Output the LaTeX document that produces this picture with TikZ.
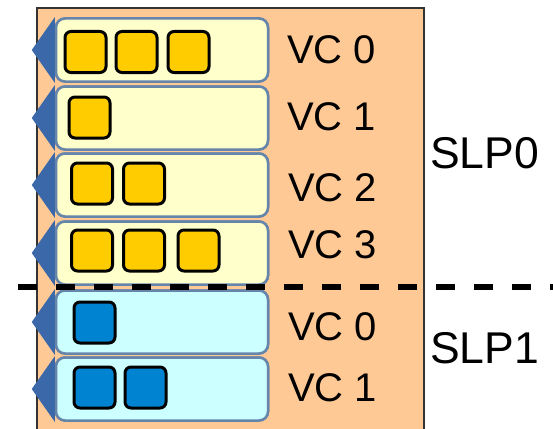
\documentclass[tikz,border=0pt]{standalone}
\usepackage{fontspec}
\setmainfont{Liberation Sans}
\usetikzlibrary{positioning}

\definecolor{portfill}{HTML}{FFC995}
\definecolor{slotline}{HTML}{6585AA}
\definecolor{tipblue}{HTML}{3A68A8}
\definecolor{vcyellow}{HTML}{FFFFCC}
\definecolor{vccyan}{HTML}{CCFFFF}
\definecolor{flityellow}{HTML}{FFCC00}
\definecolor{flitblue}{HTML}{0084D1}

\begin{document}
\begin{tikzpicture}
[x=1pt,y=-1pt,inner sep=0pt,
port/.style={draw=black!80, line width=2pt, fill=portfill},
slot/.style={draw=slotline, line width=2.5pt, rounded corners=9pt, minimum width=212pt, minimum height=63pt},
slp0/.style={slot, fill=vcyellow},
slp1/.style={slot, fill=vccyan},
tip/.style={fill=tipblue},
flit/.style={draw=black, line width=3pt, rounded corners=6pt, minimum size=41pt},
f0/.style={flit, fill=flityellow},
f1/.style={flit, fill=flitblue},
vc/.style={anchor=west, font=\fontsize{40pt}{40pt}\selectfont},
slp/.style={anchor=west, font=\fontsize{44.5pt}{44.5pt}\selectfont},
split/.style={draw, line width=6pt, dash pattern=on 19pt off 19pt}]
\clip (0,0) rectangle (553,428);

% input port
\draw [port] (37,8) rectangle (424,440);

% virtual channel buffers
\coordinate (s1) at (162,50);
\coordinate (s2) at (162,118);
\coordinate (s3) at (162,185);
\coordinate (s4) at (162,253);
\coordinate (s5) at (162,322);
\coordinate (s6) at (162,389);

\node[slp0] (b1) at (s1) {};
\node[slp0] (b2) at (s2) {};
\node[slp0] (b3) at (s3) {};
\node[slp0] (b4) at (s4) {};
\node[slp1] (b5) at (s5) {};
\node[slp1] (b6) at (s6) {};

% arrow heads on the left of each buffer
\fill [tip] (b1.north west) -- ([xshift=-23pt]b1.west) -- (b1.south west) -- cycle;
\fill [tip] (b2.north west) -- ([xshift=-23pt]b2.west) -- (b2.south west) -- cycle;
\fill [tip] (b3.north west) -- ([xshift=-23pt]b3.west) -- (b3.south west) -- cycle;
\fill [tip] (b4.north west) -- ([xshift=-23pt]b4.west) -- (b4.south west) -- cycle;
\fill [tip] (b5.north west) -- ([xshift=-23pt]b5.west) -- (b5.south west) -- cycle;
\fill [tip] (b6.north west) -- ([xshift=-23pt]b6.west) -- (b6.south west) -- cycle;

% redraw buffers over the heads
\node[slp0] at (s1) {};
\node[slp0] at (s2) {};
\node[slp0] at (s3) {};
\node[slp0] at (s4) {};
\node[slp1] at (s5) {};
\node[slp1] at (s6) {};

% flits
\node[f0] (f11) at (85.5,52) {};
\node[f0] (f12) at (136.5,52) {};
\node[f0] (f13) at (188.5,52) {};

\node[f0] (f21) at (89.5,117.5) {};

\node[f0] (f31) at (92,183.5) {};
\node[f0] (f32) at (144,183.5) {};

\node[f0] (f41) at (92,250.5) {};
\node[f0] (f42) at (144,250.5) {};
\node[f0] (f43) at (198.5,250.5) {};

\node[f1] (f51) at (94.5,322.5) {};

\node[f1] (f61) at (94.5,387.5) {};
\node[f1] (f62) at (145.5,387.5) {};

% labels
\node[vc] (l1) at (287,50) {VC 0};
\node[vc] (l2) at (287,117) {VC 1};
\node[vc] (l3) at (288,188) {VC 2};
\node[vc] (l4) at (288,245) {VC 3};
\node[vc] (l5) at (288,327) {VC 0};
\node[vc] (l6) at (288,388) {VC 1};

\node[slp] (p0) at (430,153.5) {SLP0};
\node[slp] (p1) at (430,348) {SLP1};

% border between the two SLPs
\coordinate (d0) at (18,287);
\coordinate (d1) at (560,287);
\draw [split] (d0) -- (d1);
\end{tikzpicture}
\end{document}
